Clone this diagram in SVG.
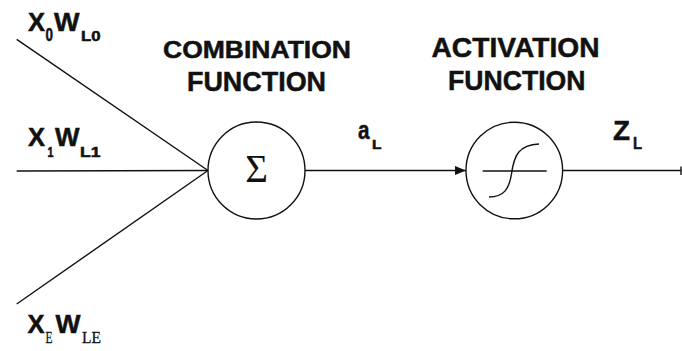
<svg xmlns="http://www.w3.org/2000/svg" width="682" height="351" viewBox="0 0 682 351">
  <style>
    .bg { fill: #ffffff; }
    .wire { stroke: #111111; stroke-width: 1.4; fill: none; }
    .node { stroke: #111111; stroke-width: 1.4; fill: #ffffff; }
    .title { font-family: "Liberation Sans", Arial, sans-serif; font-weight: bold; fill: #111111; stroke: #111111; stroke-width: 0.5; }
    .lab { font-family: "Liberation Sans", Arial, sans-serif; font-weight: bold; fill: #111111; stroke: #111111; stroke-width: 0.5; }
    .serif { font-family: "Liberation Serif", "Times New Roman", serif; fill: #111111; }
    .serifsub { font-family: "Liberation Serif", "Times New Roman", serif; fill: #111111; stroke: #111111; stroke-width: 0.3; }
  </style>
  <defs>
    <marker id="arrow" viewBox="0 0 11 9" refX="11" refY="4.5" markerWidth="11" markerHeight="9" markerUnits="userSpaceOnUse" orient="auto">
      <path d="M0,0 L11,4.5 L0,9 Z" fill="#111111"/>
    </marker>
  </defs>

  <rect class="bg" x="0" y="0" width="682" height="351"/>

  <!-- connectors -->
  <g id="connectors">
    <line class="wire" x1="16.7" y1="39.3" x2="208" y2="170.5"/>
    <line class="wire" x1="16.7" y1="171" x2="208" y2="170.5"/>
    <line class="wire" x1="16.7" y1="304" x2="208" y2="170.5"/>
    <line class="wire" x1="305" y1="170.5" x2="466" y2="170.5" stroke-width="1.8" marker-end="url(#arrow)"/>
    <line class="wire" x1="562.7" y1="170.5" x2="681" y2="170.5" stroke-width="1.8"/>
    <line class="wire" x1="681" y1="166.5" x2="681" y2="175" stroke-width="1.6"/>
  </g>

  <!-- input labels -->
  <g id="input-x0">
    <text class="lab" x="28" y="30.7" font-size="26" textLength="17" lengthAdjust="spacingAndGlyphs">X</text>
    <text class="lab" x="45.5" y="40.7" font-size="18" textLength="7.5" lengthAdjust="spacingAndGlyphs">0</text>
    <text class="lab" x="54" y="30.7" font-size="26" textLength="25.5" lengthAdjust="spacingAndGlyphs">W</text>
    <text class="lab" x="81" y="40.7" font-size="14" textLength="19.5" lengthAdjust="spacingAndGlyphs">L0</text>
  </g>
  <g id="input-x1">
    <text class="lab" x="28" y="146" font-size="26" textLength="17" lengthAdjust="spacingAndGlyphs">X</text>
    <text class="lab" x="47.5" y="156.7" font-size="14" textLength="6" lengthAdjust="spacingAndGlyphs">1</text>
    <text class="lab" x="55" y="146" font-size="26" textLength="24.5" lengthAdjust="spacingAndGlyphs">W</text>
    <text class="lab" x="80" y="156.7" font-size="14" textLength="20.5" lengthAdjust="spacingAndGlyphs">L1</text>
  </g>
  <g id="input-xe">
    <text class="lab" x="27.5" y="333.3" font-size="26" textLength="17" lengthAdjust="spacingAndGlyphs">X</text>
    <text class="serifsub" x="45.5" y="343.3" font-size="17" textLength="7" lengthAdjust="spacingAndGlyphs">E</text>
    <text class="lab" x="55.5" y="333.3" font-size="26" textLength="25" lengthAdjust="spacingAndGlyphs">W</text>
    <text class="serifsub" x="82" y="343.3" font-size="17" textLength="19" lengthAdjust="spacingAndGlyphs">LE</text>
  </g>

  <!-- combination function node -->
  <g id="combination">
    <text class="title" x="163" y="57.5" font-size="24" textLength="188" lengthAdjust="spacingAndGlyphs">COMBINATION</text>
    <text class="title" x="187" y="90.5" font-size="28" textLength="139" lengthAdjust="spacingAndGlyphs">FUNCTION</text>
    <circle class="node" cx="256.5" cy="170.5" r="48.5"/>
    <text class="serif" x="256.5" y="182" font-size="39" text-anchor="middle">Σ</text>
  </g>

  <!-- activation function node -->
  <g id="activation">
    <text class="title" x="431.5" y="57.3" font-size="28" textLength="168" lengthAdjust="spacingAndGlyphs">ACTIVATION</text>
    <text class="title" x="448" y="90.3" font-size="28" textLength="137.5" lengthAdjust="spacingAndGlyphs">FUNCTION</text>
    <circle class="node" cx="514.3" cy="170.5" r="48.3"/>
    <line class="wire" x1="482.7" y1="171" x2="546.7" y2="171" stroke-width="1.6"/>
    <path class="wire" stroke-width="1.6" d="M489,197 C504,197 509,189 511.5,174 C514,155 519,145 539,144"/>
  </g>

  <!-- signal labels -->
  <g id="signal-a">
    <text class="lab" x="358" y="139" font-size="26" textLength="11.5" lengthAdjust="spacingAndGlyphs">a</text>
    <text class="lab" x="372" y="149" font-size="12" textLength="9.5" lengthAdjust="spacingAndGlyphs">L</text>
  </g>
  <g id="signal-z">
    <text class="lab" x="613" y="140" font-size="28" textLength="17" lengthAdjust="spacingAndGlyphs">Z</text>
    <text class="lab" x="633" y="149" font-size="16" textLength="9" lengthAdjust="spacingAndGlyphs">L</text>
  </g>
</svg>
